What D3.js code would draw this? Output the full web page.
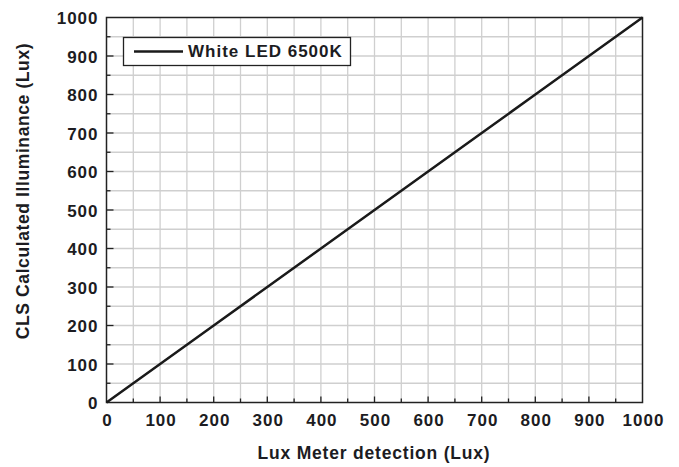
<!DOCTYPE html>
<html><head><meta charset="utf-8">
<script src="https://cdn.jsdelivr.net/npm/d3@7"></script>
<style>body{margin:0;background:#fff}svg{display:block}text{font-family:"Liberation Sans",Arial,sans-serif;font-weight:bold;fill:#1c1c22}</style>
</head><body><svg id="c" width="679" height="467"></svg>
<script>
const luxMeter = [0, 100, 200, 300, 400, 500, 600, 700, 800, 900, 1000];
const clsCalc  = [0, 100, 200, 300, 400, 500, 600, 700, 800, 900, 1000];
const tickValues = [0, 100, 200, 300, 400, 500, 600, 700, 800, 900, 1000];
const gridValues = [50,100,150,200,250,300,350,400,450,500,550,600,650,700,750,800,850,900,950];
const seriesName = "White LED 6500K";
const xTitle = "Lux Meter detection (Lux)";
const yTitle = "CLS Calculated Illuminance (Lux)";

const svg = d3.select("#c");
const L=106.5, R=642.5, T=17.5, B=402.5;
const x = d3.scaleLinear().domain([0,1000]).range([L,R]);
const y = d3.scaleLinear().domain([0,1000]).range([B,T]);

// grid
svg.append("g").selectAll("line").data(gridValues).join("line")
  .attr("x1",d=>x(d)).attr("x2",d=>x(d)).attr("y1",T).attr("y2",B)
  .attr("stroke","#cfcfcf").attr("stroke-width",1.3);
svg.append("g").selectAll("line").data(gridValues).join("line")
  .attr("y1",d=>y(d)).attr("y2",d=>y(d)).attr("x1",L).attr("x2",R)
  .attr("stroke","#cfcfcf").attr("stroke-width",1.3);

// axes
const xAxis = svg.append("g").attr("transform",`translate(0,${B})`)
  .call(d3.axisBottom(x).tickValues(tickValues).tickSize(0).tickPadding(11).tickFormat(d3.format("d")));
const yAxis = svg.append("g").attr("transform",`translate(${L},0)`)
  .call(d3.axisLeft(y).tickValues(tickValues).tickSize(0).tickPadding(8).tickFormat(d3.format("d")));
[xAxis,yAxis].forEach(a=>{a.select(".domain").remove();
  a.selectAll("text").style("font-size","17px").style("letter-spacing","1px").style("font-family",'"Liberation Sans",Arial,sans-serif').attr("fill","#1c1c22");});
xAxis.selectAll("text").attr("dy","0.72em").attr("dx","0.5px");
yAxis.selectAll("text").attr("dy","0.36em");

// inward ticks
svg.append("g").selectAll("line").data(gridValues).join("line")
  .attr("x1",d=>x(d)).attr("x2",d=>x(d)).attr("y1",B).attr("y2",d=>B-(d%100===0?6:4))
  .attr("stroke","#222").attr("stroke-width",1.3);
svg.append("g").selectAll("line").data(gridValues).join("line")
  .attr("y1",d=>y(d)).attr("y2",d=>y(d)).attr("x1",L).attr("x2",d=>L+(d%100===0?7:4))
  .attr("stroke","#222").attr("stroke-width",1.3);

// frame
svg.append("rect").attr("x",L).attr("y",T).attr("width",R-L).attr("height",B-T)
  .attr("fill","none").attr("stroke","#222").attr("stroke-width",1.5);

// line
const pts = luxMeter.map((v,i)=>[v,clsCalc[i]]);
svg.append("path").datum(pts)
  .attr("d",d3.line().x(d=>x(d[0])).y(d=>y(d[1])))
  .attr("fill","none").attr("stroke","#1a1a1a").attr("stroke-width",2.5);

// legend
const lg = svg.append("g");
lg.append("rect").attr("x",123.5).attr("y",37.5).attr("width",227).attr("height",28)
  .attr("fill","#fff").attr("stroke","#222").attr("stroke-width",1.3);
lg.append("line").attr("x1",134).attr("x2",183).attr("y1",51.5).attr("y2",51.5)
  .attr("stroke","#1a1a1a").attr("stroke-width",2.5);
lg.append("text").attr("x",188).attr("y",57).style("font-size","17px").style("letter-spacing","1px").text(seriesName);

// titles
svg.append("text").attr("x",374).attr("y",459).attr("text-anchor","middle")
  .style("font-size","17.5px").style("letter-spacing","0.8px").text(xTitle);
svg.append("text").attr("transform","translate(29,191) rotate(-90)").attr("text-anchor","middle")
  .style("font-size","17.5px").style("letter-spacing","0.6px").text(yTitle);
</script></body></html>
